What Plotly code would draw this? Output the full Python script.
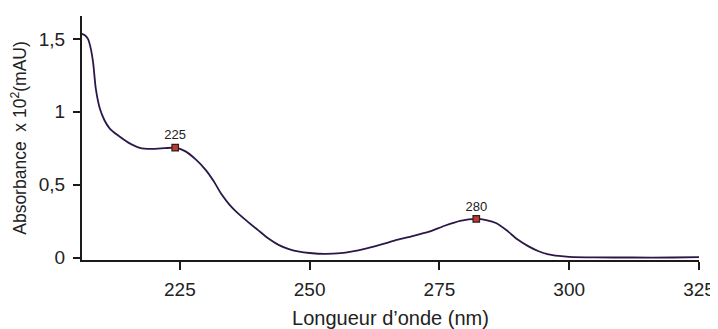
import plotly.graph_objects as go

# Spectrum data
wavelength = [206.0, 206.7, 207.3, 207.8, 208.3, 208.8, 209.6, 210.5, 211.5, 213.0, 215.0, 217.3, 219.5,
              222.0, 224.1, 226.0, 228.0, 230.0, 231.5, 233.0, 234.5, 236.0, 238.0, 240.0, 242.0,
              244.0, 246.0, 248.0, 250.0, 253.0, 256.0, 258.0, 261.0, 264.0, 267.0, 270.0, 273.0,
              276.0, 279.0, 282.1, 284.0, 286.0, 288.0, 290.0, 292.0, 294.0, 296.0, 298.0, 300.0,
              305.0, 312.0, 320.0, 325.0]
absorbance = [1.535, 1.525, 1.50, 1.44, 1.335, 1.16, 1.02, 0.94, 0.885, 0.84, 0.79, 0.752, 0.745,
              0.75, 0.754, 0.73, 0.675, 0.6, 0.525, 0.435, 0.365, 0.31, 0.248, 0.19, 0.132,
              0.087, 0.058, 0.04, 0.031, 0.025, 0.03, 0.04, 0.063, 0.092, 0.122, 0.148, 0.177,
              0.218, 0.252, 0.265, 0.257, 0.235, 0.185, 0.125, 0.08, 0.045, 0.022, 0.011, 0.005,
              0.001, 0.0, 0.0, 0.003]

peak_x = [224.1, 282.1]
peak_y = [0.754, 0.265]
peak_labels = ["225", "280"]

x_ticks = [225, 250, 275, 300, 325]
y_ticks = [0, 0.5, 1, 1.5]
y_ticktext = ["0", "0,5", "1", "1,5"]

FONT = "Liberation Sans, Arial, sans-serif"

fig = go.Figure()
fig.add_trace(go.Scatter(
    x=wavelength, y=absorbance, mode="lines",
    line=dict(color="#2b1848", width=1.8, shape="spline", smoothing=0.6),
    hoverinfo="skip", showlegend=False))
fig.add_trace(go.Scatter(
    x=peak_x, y=peak_y, mode="markers+text",
    marker=dict(symbol="square", size=6.5, color="#c0392f",
                line=dict(color="#2a2020", width=1.2)),
    text=peak_labels, textposition="top center",
    textfont=dict(size=13, color="#222222", family=FONT),
    showlegend=False))

# the page body adds an 8px offset, so the figure is sized to fit inside the window
fig.update_layout(
    width=710, height=321,
    margin=dict(l=74, r=19, t=8, b=69),
    plot_bgcolor="white", paper_bgcolor="white",
    font=dict(family=FONT, size=19, color="#222222"),
    xaxis=dict(
        range=[206.15, 325], tickvals=x_ticks, ticks="outside", ticklen=8, tickwidth=1.8,
        tickcolor="#1a1a1a", showline=True, linecolor="#1a1a1a", linewidth=2,
        showgrid=False, zeroline=False, automargin=False, ticklabelstandoff=3,
        title=dict(text="Longueur d’onde (nm)", standoff=15, font=dict(size=20)),
        tickfont=dict(size=19)),
    yaxis=dict(
        range=[-0.017, 1.657], tickvals=y_ticks, ticktext=y_ticktext, ticks="outside",
        ticklen=7, tickwidth=1.8, tickcolor="#1a1a1a", showline=True, linecolor="#1a1a1a",
        linewidth=2, showgrid=False, zeroline=False, automargin=False, ticklabelstandoff=4,
        title=dict(text="Absorbance\u00a0 x 10<sup>2</sup>(mAU)", standoff=10, font=dict(size=17.5)),
        tickfont=dict(size=19)),
)

fig.write_html("out.html")
